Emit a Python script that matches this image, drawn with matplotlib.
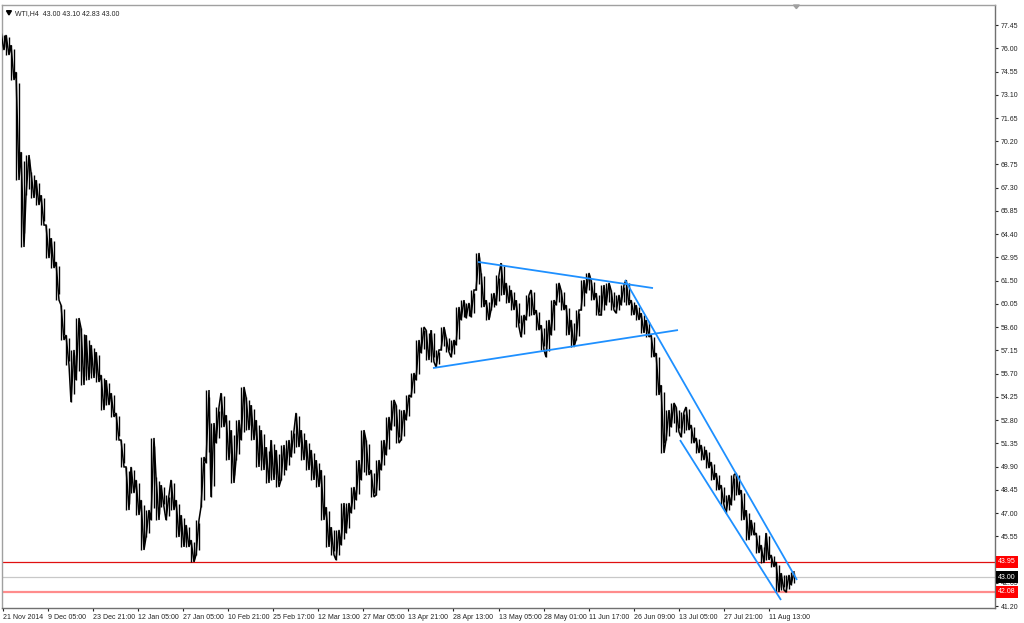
import matplotlib
matplotlib.use("Agg")
import matplotlib.pyplot as plt
import matplotlib.transforms as mtransforms
import numpy as np

# ---- data (WTI, H4) : high / low envelope of consecutive bar groups ----
highs = [76.95, 76.83, 76.20, 74.52, 69.53, 69.34, 68.28, 67.78, 66.84, 64.97,
         64.16, 62.67, 59.98, 58.11, 57.18, 59.17, 58.55, 58.11, 57.49, 57.05,
         55.62, 55.30, 54.49, 53.25, 51.56, 49.88, 49.88, 49.07, 47.82, 47.19,
         51.69, 49.25, 48.75, 48.13, 49.07, 47.82, 46.88, 46.26, 45.32, 46.57,
         50.50, 54.68, 52.62, 53.62, 54.49, 53.12, 52.18, 52.81, 54.87, 54.24,
         53.74, 52.81, 52.18, 51.12, 51.56, 50.94, 51.25, 51.56, 52.18, 53.25,
         52.18, 51.56, 50.94, 50.31, 49.69, 47.38, 46.13, 45.95, 47.63, 47.63,
         48.63, 50.31, 52.18, 51.56, 49.69, 50.31, 51.56, 53.00, 54.06, 53.74,
         53.43, 54.37, 55.74, 57.80, 58.61, 58.42, 58.42, 57.18, 58.61, 57.99,
         57.80, 59.86, 60.29, 60.11, 60.92, 63.23, 61.98, 60.29, 60.73, 61.85,
         62.60, 61.36, 60.92, 60.29, 59.36, 60.61, 60.92, 59.67, 58.73, 59.05,
         60.29, 61.36, 60.92, 59.98, 59.05, 59.67, 61.54, 61.98, 61.54, 60.73,
         61.23, 61.36, 60.92, 60.61, 61.23, 61.54, 60.29, 59.98, 59.48, 59.05,
         58.11, 56.99, 54.99, 53.43, 53.87, 53.62, 53.31, 53.62, 52.50, 51.69,
         51.25, 50.94, 50.19, 49.50, 48.75, 48.13, 49.38, 49.50, 48.44, 47.19,
         46.57, 45.76, 45.01, 45.76, 44.39, 43.95, 43.26, 43.14, 43.33]
lows = [75.89, 75.58, 74.02, 67.78, 63.60, 66.84, 66.66, 66.22, 64.97, 62.91,
        62.29, 60.29, 57.80, 56.24, 53.93, 55.30, 54.99, 55.30, 55.43, 55.18,
        53.43, 53.74, 53.00, 51.56, 49.88, 47.19, 48.25, 46.88, 44.70, 45.51,
        46.57, 46.57, 47.38, 46.57, 47.19, 45.51, 44.89, 44.89, 43.95, 44.39,
        47.38, 50.13, 48.01, 51.37, 52.37, 50.31, 48.88, 50.31, 51.56, 52.18,
        51.56, 49.88, 49.69, 48.88, 49.07, 48.63, 49.07, 49.69, 50.50, 51.12,
        50.31, 49.69, 49.07, 48.63, 46.57, 44.89, 44.39, 44.08, 45.01, 45.76,
        47.01, 47.82, 49.07, 49.38, 48.01, 48.13, 49.69, 50.63, 52.18, 51.37,
        51.56, 52.81, 54.24, 55.30, 56.99, 56.55, 56.43, 56.12, 57.18, 57.05,
        56.74, 57.49, 59.05, 59.17, 59.23, 60.92, 59.86, 59.05, 59.67, 59.98,
        60.61, 60.11, 59.67, 58.61, 57.99, 59.05, 59.36, 58.42, 57.18, 56.74,
        58.11, 59.98, 59.67, 58.11, 57.36, 57.80, 59.67, 60.73, 60.29, 59.36,
        59.36, 59.98, 59.67, 59.48, 59.98, 59.98, 59.36, 59.05, 58.24, 57.99,
        56.74, 54.37, 50.75, 51.56, 52.37, 52.06, 51.75, 52.18, 51.37, 50.75,
        50.31, 49.81, 49.07, 48.44, 47.51, 47.01, 47.51, 48.13, 46.57, 45.32,
        45.63, 44.51, 43.89, 44.08, 43.64, 42.08, 42.20, 42.08, 42.52]

date_labels = ["21 Nov 2014", "9 Dec 05:00", "23 Dec 21:00", "12 Jan 05:00",
               "27 Jan 05:00", "10 Feb 21:00", "25 Feb 17:00", "12 Mar 13:00",
               "27 Mar 05:00", "13 Apr 21:00", "28 Apr 13:00", "13 May 05:00",
               "28 May 01:00", "11 Jun 17:00", "26 Jun 09:00", "13 Jul 05:00",
               "27 Jul 21:00", "11 Aug 13:00"]

price_ticks = [41.20, 42.65, 44.10, 45.55, 47.00, 48.45, 49.90, 51.35, 52.80,
               54.25, 55.70, 57.15, 58.60, 60.05, 61.50, 62.95, 64.40, 65.85,
               67.30, 68.75, 70.20, 71.65, 73.10, 74.55, 76.00, 77.45]

# trend lines: (bar index, price) pairs
trend_lines = [
    ((95.1, 62.67), (130.1, 61.04)),
    ((86.1, 56.05), (135.1, 58.42)),
    ((124.5, 61.54), (158.9, 42.83)),
    ((135.5, 51.56), (155.7, 41.58)),
]

level_high = 43.95
level_last = 43.00
level_low = 42.08
title = "WTI,H4  43.00 43.10 42.83 43.00"

FONT = ["Liberation Sans", "DejaVu Sans"]
plt.rcParams["font.family"] = FONT

# ---- figure ----
W, H = 1024, 623
fig = plt.figure(figsize=(W / 100, H / 100), dpi=100)
fig.patch.set_facecolor("white")
left_px, right_px, top_px, bot_px = 2, 995, 5, 608
ax = fig.add_axes([left_px / W, (H - bot_px) / H, (right_px - left_px) / W,
                   (bot_px - top_px) / H])
ax.set_facecolor("white")

hi = np.array(highs)
lo = np.array(lows)
idx = np.arange(len(hi))
mid = (hi + lo) / 2

# thin vertical bars (high-low) for every group
ax.vlines(idx - 0.22, lo, hi, color="black", linewidth=1.0, zorder=3)
ax.vlines(idx + 0.22, lo + (hi - lo) * 0.15, hi - (hi - lo) * 0.1,
          color="black", linewidth=1.0, zorder=3)

# continuous zig-zag path visiting high and low of each group
px, py = [], []
for i in range(len(hi)):
    nxt = mid[i + 1] if i + 1 < len(hi) else mid[i]
    prv = mid[i - 1] if i > 0 else mid[i]
    if nxt >= prv:
        first, second = lo[i], hi[i]
    else:
        first, second = hi[i], lo[i]
    px += [i - 0.3, i + 0.3]
    py += [first, second]
ax.plot(px, py, color="black", linewidth=1.1, zorder=3, solid_joinstyle="miter")

for (x0, y0), (x1, y1) in trend_lines:
    ax.plot([x0, x1], [y0, y1], color="#1E90FF", linewidth=1.3, zorder=4,
            solid_capstyle="butt")

ax.axhline(level_high, color="#E01010", linewidth=0.9, zorder=2)
ax.axhline(level_last, color="#C8C8C8", linewidth=0.9, zorder=2)
ax.axhline(level_low, color="#FF8C8C", linewidth=1.6, zorder=2)

ax.set_xlim(-0.1, 198.5)
ax.set_ylim(41.08, 78.70)

# y axis on right
ax.yaxis.tick_right()
ax.set_yticks(price_ticks)
ax.set_yticklabels([f"{v:.2f}" for v in price_ticks])
ax.tick_params(axis="y", which="major", direction="out", length=2.5, width=0.8,
               pad=1.5, labelsize=5, colors="#222222")

# x axis
xt = [9.01 * k + 0.1 for k in range(len(date_labels))]
ax.set_xticks(xt)
ax.set_xticklabels(date_labels)
ax.tick_params(axis="x", which="major", direction="out", length=2.5, width=0.8,
               pad=1.5, labelsize=5, colors="#222222")
for lab in ax.get_xticklabels():
    lab.set_horizontalalignment("left")

for s in ax.spines.values():
    s.set_color("#707070")
    s.set_linewidth(1.0)
ax.spines["left"].set_color("#A0A0A0")
ax.spines["top"].set_color("#A0A0A0")

# price boxes on the right
trans = mtransforms.blended_transform_factory(ax.transAxes, ax.transData)
for val, bg in [(level_high, "#FF0000"), (level_last, "#000000"), (level_low, "#FF0000")]:
    ax.text(1.003, val, f"{val:.2f}", transform=trans, ha="left", va="center",
            fontsize=5, color="white", zorder=10, clip_on=False,
            bbox=dict(boxstyle="square,pad=0.35", fc=bg, ec="none"))

# title with small dropdown triangle
ax.text(0.013, 0.992, title, transform=ax.transAxes, ha="left", va="top",
        fontsize=5, color="#222222")
ax.fill([0.0045, 0.0095, 0.007], [0.9905, 0.9905, 0.9835], transform=ax.transAxes,
        color="black", zorder=5)
# small chart-shift marker at the top
ax.fill([0.797, 0.803, 0.800], [1.0, 1.0, 0.994], transform=ax.transAxes,
        color="#A0A0A0", zorder=5, clip_on=False)

for t in ax.get_xticklabels() + ax.get_yticklabels() + ax.texts:
    t.set_family(FONT)

fig.savefig("out.png", dpi=100, facecolor="white")
